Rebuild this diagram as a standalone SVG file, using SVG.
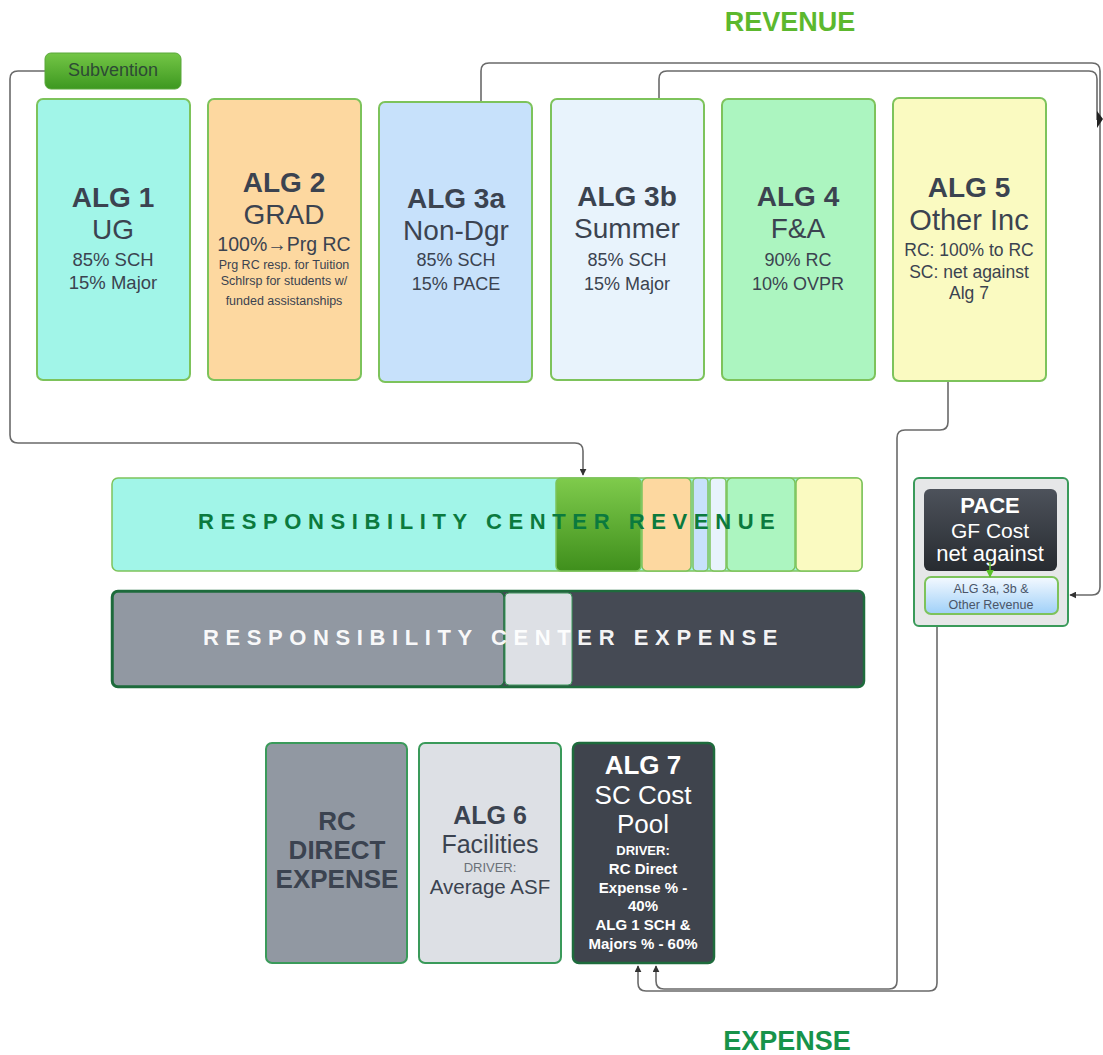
<svg xmlns="http://www.w3.org/2000/svg" width="1103" height="1055" viewBox="0 0 1103 1055">
<defs>
<linearGradient id="gGreen" x1="0" y1="0" x2="0" y2="1"><stop offset="0" stop-color="#7fcb4c"/><stop offset="1" stop-color="#3f8f1c"/></linearGradient>
<linearGradient id="gSub" x1="0" y1="0" x2="0" y2="1"><stop offset="0" stop-color="#74c646"/><stop offset="1" stop-color="#3d9820"/></linearGradient>
<linearGradient id="gDark" x1="0" y1="0" x2="0" y2="1"><stop offset="0" stop-color="#4d525b"/><stop offset="1" stop-color="#272b30"/></linearGradient>
<linearGradient id="gBlue" x1="0" y1="0" x2="0" y2="1"><stop offset="0" stop-color="#f4f9ff"/><stop offset="1" stop-color="#9fd0f8"/></linearGradient>
<marker id="arr" viewBox="0 0 10 10" refX="9" refY="5" markerWidth="7" markerHeight="7" orient="auto-start-reverse" markerUnits="userSpaceOnUse"><path d="M0,0 L10,5 L0,10 z" fill="#333"/></marker>
<marker id="arrG" viewBox="0 0 10 10" refX="9" refY="5" markerWidth="8" markerHeight="8" orient="auto" markerUnits="userSpaceOnUse"><path d="M0,0 L10,5 L0,10 z" fill="#5cc02a"/></marker>
</defs>
<style>
text{font-family:"Liberation Sans",Arial,sans-serif;text-anchor:middle}
.box{stroke:#7dc35b;stroke-width:2}
.t{fill:#3b4350}
.b{font-weight:bold}
.w{fill:#ffffff}
.con{fill:none;stroke:#6a6a6a;stroke-width:1.6}
.bar{stroke:#7dc35b;stroke-width:1.5}
</style>
<rect width="1103" height="1055" fill="#ffffff"/>

<text x="790" y="31" class="b" font-size="27" fill="#5cb82e">REVENUE</text>
<text x="787" y="1050" class="b" font-size="27" fill="#17934a">EXPENSE</text>

<g id="connectors">
<path class="con" d="M45,71 H18 Q10,71 10,79 V435 Q10,443 18,443 H575 Q583,443 583,451 V475" marker-end="url(#arr)"/>
<path class="con" d="M481,102 V71 Q481,63 489,63 H1092 Q1100,63 1100,71 V587 Q1100,595 1092,595 H1070" marker-end="url(#arr)"/>
<path class="con" d="M659,99 V79 Q659,71 667,71 H1089 Q1097,71 1097,79 V120"/>
<path class="con" d="M948,381 V422 Q948,430 940,430 H905 Q897,430 897,438 V981 Q897,989 889,989 H664 Q656,989 656,981 V966" marker-end="url(#arr)"/>
<path class="con" d="M937,626 V983 Q937,991 929,991 H646 Q638,991 638,983 V966" marker-end="url(#arr)"/>
<polygon points="1097,111 1103,119 1097,128" fill="#222"/>
</g>

<g id="subvention">
<rect x="45" y="53" width="136" height="36" rx="6" fill="url(#gSub)" stroke="#5aa83a" stroke-width="1"/>
<text x="113" y="76" font-size="18" fill="#2d4a35">Subvention</text>
</g>

<g id="alg1">
<rect class="box" x="37" y="99" width="153" height="281" rx="6" fill="#a1f5e8"/>
<text x="113" y="207" class="t b" font-size="28">ALG 1</text>
<text x="113" y="239" class="t" font-size="28">UG</text>
<text x="113" y="266" class="t" font-size="18.5">85% SCH</text>
<text x="113" y="289" class="t" font-size="18.5">15% Major</text>
</g>

<g id="alg2">
<rect class="box" x="208" y="99" width="153" height="281" rx="6" fill="#fdd8a0"/>
<text x="284" y="192" class="t b" font-size="28">ALG 2</text>
<text x="284" y="224" class="t" font-size="28">GRAD</text>
<text x="284" y="251" class="t" font-size="19.5">100%→Prg RC</text>
<text x="284" y="269" class="t" font-size="12.5">Prg RC resp. for Tuition</text>
<text x="284" y="285" class="t" font-size="12.5">Schlrsp for students w/</text>
<text x="284" y="305" class="t" font-size="12.5">funded assistanships</text>
</g>

<g id="alg3a">
<rect class="box" x="379" y="102" width="153" height="280" rx="6" fill="#c7e1fb"/>
<text x="456" y="208" class="t b" font-size="28">ALG 3a</text>
<text x="456" y="240" class="t" font-size="28">Non-Dgr</text>
<text x="456" y="266" class="t" font-size="18">85% SCH</text>
<text x="456" y="290" class="t" font-size="18">15% PACE</text>
</g>

<g id="alg3b">
<rect class="box" x="551" y="99" width="153" height="281" rx="6" fill="#e8f3fc"/>
<text x="627" y="206" class="t b" font-size="28">ALG 3b</text>
<text x="627" y="238" class="t" font-size="28">Summer</text>
<text x="627" y="266" class="t" font-size="18">85% SCH</text>
<text x="627" y="290" class="t" font-size="18">15% Major</text>
</g>

<g id="alg4">
<rect class="box" x="722" y="99" width="153" height="281" rx="6" fill="#acf5c0"/>
<text x="798" y="206" class="t b" font-size="28">ALG 4</text>
<text x="798" y="238" class="t" font-size="28">F&amp;A</text>
<text x="798" y="266" class="t" font-size="18">90% RC</text>
<text x="798" y="290" class="t" font-size="18">10% OVPR</text>
</g>

<g id="alg5">
<rect class="box" x="893" y="98" width="153" height="283" rx="6" fill="#fafac1"/>
<text x="969" y="197" class="t b" font-size="28">ALG 5</text>
<text x="969" y="230" class="t" font-size="29">Other Inc</text>
<text x="969" y="256" class="t" font-size="17.5">RC: 100% to RC</text>
<text x="969" y="278" class="t" font-size="17.5">SC: net against</text>
<text x="969" y="299" class="t" font-size="17.5">Alg 7</text>
</g>

<g id="rc-revenue">
<rect class="bar" x="112" y="478" width="750" height="93" rx="6" fill="#a1f5e8"/>
<rect class="bar" x="556" y="478" width="85" height="93" rx="5" fill="url(#gGreen)"/>
<rect class="bar" x="642" y="478" width="49" height="93" rx="5" fill="#fdd8a0"/>
<rect class="bar" x="693" y="478" width="15" height="93" rx="4" fill="#c7e1fb"/>
<rect class="bar" x="710" y="478" width="16" height="93" rx="4" fill="#e8f3fc"/>
<rect class="bar" x="727" y="478" width="68" height="93" rx="5" fill="#acf5c0"/>
<rect class="bar" x="796" y="478" width="66" height="93" rx="5" fill="#fafac1"/>
<text x="198" y="529" class="b" font-size="22" fill="#0b7a3e" letter-spacing="6.6" style="text-anchor:start">RESPONSIBILITY CENTER REVENUE</text>
</g>

<g id="rc-expense">
<rect x="112" y="591" width="752" height="96" rx="6" fill="#454a54" stroke="#1e6b3c" stroke-width="2.5"/>
<rect x="113" y="592" width="391" height="94" rx="5" fill="#9198a2" stroke="#1e6b3c" stroke-width="1.5"/>
<rect x="505" y="593" width="67" height="92" rx="4" fill="#dde0e5" stroke="#3a9a5a" stroke-width="1"/>
<text x="203" y="645" class="b" font-size="22" fill="#ffffff" fill-opacity="0.95" letter-spacing="6.6" style="text-anchor:start">RESPONSIBILITY CENTER EXPENSE</text>
</g>

<g id="pace">
<rect x="914" y="478" width="154" height="148" rx="5" fill="#e6e7e8" stroke="#3a9a5a" stroke-width="2"/>
<rect x="924" y="489" width="133" height="82" rx="6" fill="url(#gDark)"/>
<text x="990" y="513" class="b w" font-size="22">PACE</text>
<text x="990" y="538" class="w" font-size="21">GF Cost</text>
<text x="990" y="561" class="w" font-size="22">net against</text>
<rect x="925" y="577" width="133" height="37" rx="6" fill="url(#gBlue)" stroke="#7dc35b" stroke-width="2"/>
<text x="991" y="593" font-size="12.5" fill="#4a5568">ALG 3a, 3b &amp;</text>
<text x="991" y="609" font-size="12.5" fill="#4a5568">Other Revenue</text>
<path d="M990,562 V577" stroke="#5cc02a" stroke-width="1.5" marker-end="url(#arrG)"/>
</g>

<g id="rc-direct">
<rect x="266" y="743" width="141" height="220" rx="6" fill="#9198a2" stroke="#3a9a5a" stroke-width="2"/>
<text x="337" y="830" class="t b" font-size="26">RC</text>
<text x="337" y="859" class="t b" font-size="26">DIRECT</text>
<text x="337" y="888" class="t b" font-size="26">EXPENSE</text>
</g>

<g id="alg6">
<rect x="419" y="743" width="142" height="220" rx="6" fill="#dde0e5" stroke="#3a9a5a" stroke-width="2"/>
<text x="490" y="824" class="t b" font-size="25">ALG 6</text>
<text x="490" y="853" class="t" font-size="25">Facilities</text>
<text x="490" y="872" font-size="13" fill="#6a7078">DRIVER:</text>
<text x="490" y="894" class="t" font-size="20.5">Average ASF</text>
</g>

<g id="alg7">
<rect x="573" y="743" width="141" height="220" rx="6" fill="#3f444d" stroke="#1e6b3c" stroke-width="2.5"/>
<text x="643" y="774" class="b w" font-size="26">ALG 7</text>
<text x="643" y="804" class="w" font-size="26">SC Cost</text>
<text x="643" y="833" class="w" font-size="26">Pool</text>
<text x="643" y="855" class="w b" font-size="13">DRIVER:</text>
<text x="643" y="874" class="w b" font-size="15">RC Direct</text>
<text x="643" y="893" class="w b" font-size="15">Expense % -</text>
<text x="643" y="911" class="w b" font-size="15">40%</text>
<text x="643" y="930" class="w b" font-size="15">ALG 1 SCH &amp;</text>
<text x="643" y="949" class="w b" font-size="15">Majors % - 60%</text>
</g>
</svg>
